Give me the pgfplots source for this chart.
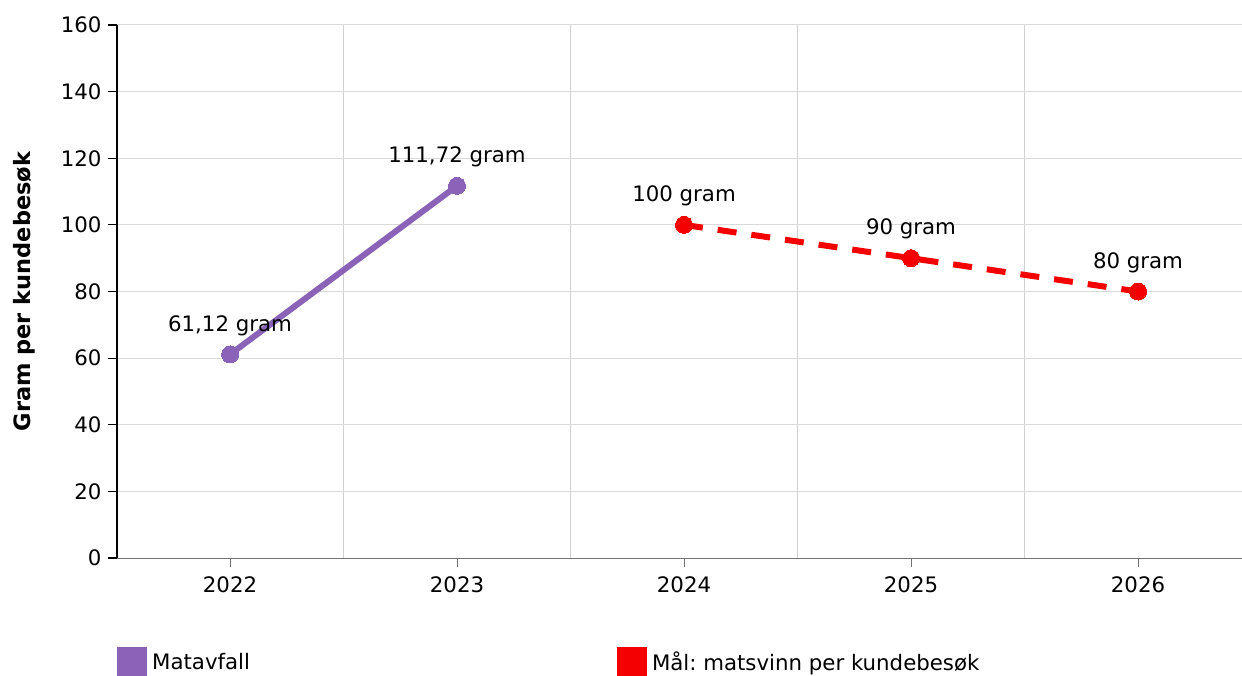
\documentclass[border=0pt]{standalone}
\usepackage{fontspec}
\setmainfont{DejaVu Sans}
\usepackage{pgfplots}
\pgfplotsset{compat=1.18}
\definecolor{mpurple}{HTML}{8A63B8}
\definecolor{mred}{HTML}{F50000}
\begin{document}
\frenchspacing
\begin{tikzpicture}[font=\fontsize{21.3}{25}\selectfont]
\useasboundingbox (-117pt,-117pt) rectangle (1125pt,558pt);
\begin{axis}[
  at={(0pt,0pt)}, anchor=south west,
  scale only axis, width=1125pt, height=533pt,
  xmin=2021.502, xmax=2026.458, ymin=0, ymax=160,
  axis x line=bottom, axis y line=left, axis line style={-},
  x axis line style={draw=black!55, line width=1pt},
  y axis line style={draw=black, line width=1.3pt},
  xtick={2022,2023,2024,2025,2026},
  xticklabels={2022,2023,2024,2025,2026},
  minor xtick={2022.5,2023.5,2024.5,2025.5},
  xminorgrids, ymajorgrids,
  ytick={0,20,...,160},
  tick align=outside, major tick length=9pt, minor tick length=0pt,
  x tick style={draw=black!55, line width=1pt},
  y tick style={draw=black, line width=1.2pt},
  minor grid style={draw=black!18, line width=1pt},
  major grid style={draw=black!15, line width=1pt},
  /pgf/number format/assume math mode=true,
  xticklabel style={yshift=-6pt},
  yticklabel style={xshift=-3pt},
  ylabel={\bfseries Gram per kundebesøk},
  ylabel style={at={(axis description cs:-0.0827,0.5)}, anchor=center, font=\fontsize{22.5}{26}\selectfont},
  clip=false,
  nodes near coords,
  point meta=explicit symbolic,
  every node near coord/.append style={anchor=center, yshift=29pt, text=black, font=\fontsize{21.3}{25}\selectfont},
  legend columns=2,
  legend cell align=left,
  legend style={at={(axis description cs:0,0)}, anchor=north west, yshift=-89pt,
    draw=none, fill=none, inner sep=0pt,
    /tikz/every even column/.append style={column sep=365pt}},
  legend image code/.code={\fill[draw=none, solid] (0pt,-15pt) rectangle (30pt,15pt);},
]
\addplot[color=mpurple, line width=6pt, mark=*, mark size=8.5pt, mark options={solid, line width=0pt}]
  table[col sep=semicolon, x=x, y=y, meta=label] {
x;y;label
2022;61.12;61,12 gram
2023;111.72;111,72 gram
};
\addlegendentry{\hspace*{3pt}Matavfall}
\addplot[color=mred, line width=6pt, dash pattern=on 19pt off 15pt, mark=*, mark size=8.5pt, mark options={solid, line width=0pt}]
  table[col sep=semicolon, x=x, y=y, meta=label] {
x;y;label
2024;100;100 gram
2025;90;90 gram
2026;80;80 gram
};
\addlegendentry{\hspace*{3pt}Mål: matsvinn per kundebesøk}
\end{axis}
\end{tikzpicture}
\end{document}
